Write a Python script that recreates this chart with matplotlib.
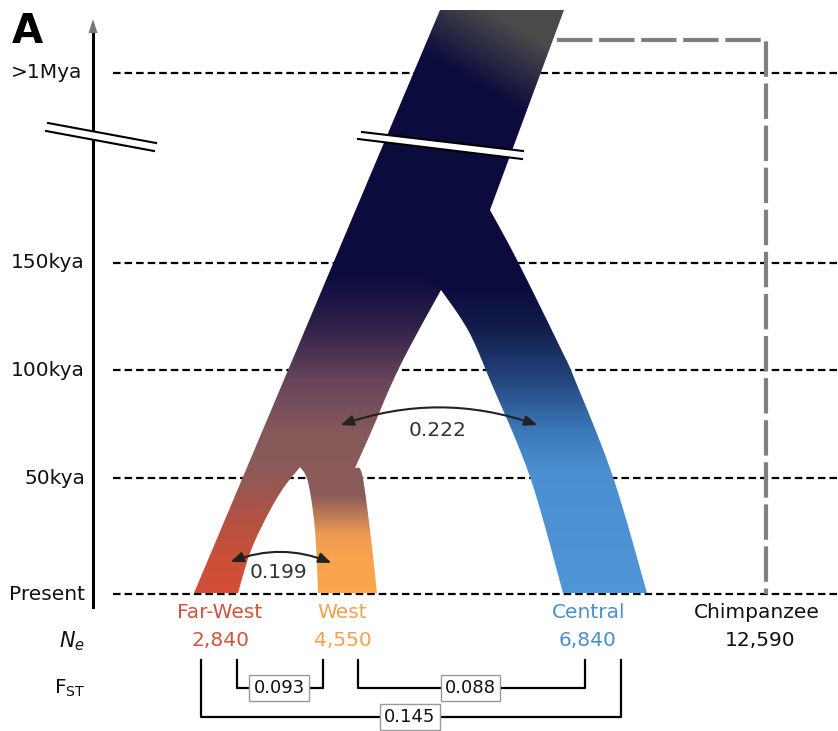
import numpy as np
import matplotlib.pyplot as plt
from matplotlib.patches import Polygon, FancyArrowPatch
from matplotlib.colors import to_rgb

# --- data ---
time_kya = [0, 50, 100, 150]
time_labels = ['Present', '50kya', '100kya', '150kya']
deep_label = '>1Mya'

populations = ['Far-West', 'West', 'Central', 'Chimpanzee']
ne_values = [2840, 4550, 6840, 12590]
pop_colors = ['#d0543e', '#f4a14e', '#4a8fd0', '#111111']

fst_pairs = [('Far-West', 'West'), ('West', 'Central'), ('Far-West', 'Central')]
fst_values = [0.093, 0.088, 0.145]

migration_pairs = [('Far-West', 'West'), ('West', 'Central')]
migration_values = [0.199, 0.222]

# --- layout (figure pixels, y grows downward) ---
W, H = 838, 731
TIME_PX = [594, 478, 370, 263]
DEEP_PX = 73


def t2y(kya):
    return np.interp(kya, time_kya, TIME_PX)


def curve(pts, n=24):
    # catmull-rom through the given points
    pts = np.asarray(pts, float)
    p = np.vstack([pts[0], pts, pts[-1]])
    out = []
    t = np.linspace(0, 1, n, endpoint=False)[:, None]
    for i in range(1, len(p) - 2):
        p0, p1, p2, p3 = p[i - 1], p[i], p[i + 1], p[i + 2]
        out.append(0.5 * (2 * p1 + (-p0 + p2) * t + (2 * p0 - 5 * p1 + 4 * p2 - p3) * t ** 2
                          + (-p0 + 3 * p1 - 3 * p2 + p3) * t ** 3))
    out.append(pts[-1:])
    return np.vstack(out)


def ramp(stops):
    ys = [s[0] for s in stops]
    cols = np.array([to_rgb(s[1]) for s in stops])
    rows = np.arange(H) + 0.5
    return np.stack([np.interp(rows, ys, cols[:, k]) for k in range(3)], axis=1)


NAVY = '#0b0b3d'
trunk_stops = [(0, NAVY), (275, NAVY),
               (320, '#2a1d48'), (380, '#66445a'), (430, '#84585a'), (470, '#8a5a58')]
fw_stops = trunk_stops + [(520, '#b25142'), (560, '#cc4f38'), (594, '#d34e36')]
west_stops = trunk_stops + [(495, '#8a5a5a'), (535, '#ef9a52'), (560, '#f9a44d'), (594, '#fba54d')]
central_stops = [(0, NAVY), (285, NAVY), (325, '#111b48'), (380, '#24457e'),
                 (430, '#3a78b8'), (470, '#4a8fcf'), (594, '#4f96d6')]

fig = plt.figure(figsize=(W / 100, H / 100), dpi=100)
ax = fig.add_axes([0, 0, 1, 1])

# dashed time lines
for y in list(t2y(time_kya)) + [DEEP_PX]:
    ax.plot([113, W], [y, y], color='black', lw=1.6, dashes=(3.4, 1.8), zorder=1)

# chimpanzee outgroup
ax.plot([557, 766, 766], [40, 40, t2y(0)], color='#808080', lw=3, dashes=(8.5, 1.6),
        solid_capstyle='butt', zorder=1)

# West / Far-West lineage with ancestral trunk
left_edge = np.array([[440, 10], [194, 593]])
trunk_right = np.array([[564, 10], [490, 210], [441, 290]])
west_anc_right = curve([[441, 290], [420, 328], [402, 362], [388, 392], [372, 430], [355, 468]])
west_right = curve([[355, 468], [362, 474], [370, 530], [377, 593]])
west_left = curve([[318, 593], [315, 530], [308, 482], [300, 467]])
fw_right = curve([[300, 467], [282, 490], [265, 520], [250, 553], [238, 593]])
trunk_poly = np.vstack([left_edge[:1], trunk_right, west_anc_right, west_right,
                        west_left, fw_right, [[194, 593]]])

fw_col = ramp(fw_stops)
west_col = ramp(west_stops)
xs = np.arange(W) + 0.5
ys = np.arange(H) + 0.5
wgt = 1 / (1 + np.exp(-(xs - 290) / 6.0))
img = fw_col[:, None, :] * (1 - wgt[None, :, None]) + west_col[:, None, :] * wgt[None, :, None]
# grey-to-navy fade at the top of the trunk runs diagonally
g = np.clip((ys[:, None] - 0.6 * (xs[None, :] - 470)) / 80, 0, 1)[:, :, None]
img = img * g + np.array(to_rgb('#4a4a4a')) * (1 - g)
img = (np.clip(img, 0, 1) * 255).round().astype(np.uint8)
p1 = Polygon(trunk_poly, closed=True, fc='none', ec='none')
ax.add_patch(p1)
im1 = ax.imshow(img, extent=(0, W, H, 0), aspect='auto', interpolation='nearest', zorder=2)
im1.set_clip_path(p1)

# Central lineage
c_outer = curve([[490, 210], [517, 260], [560, 347], [575, 380], [613, 477], [647, 593]])
c_inner = curve([[563, 593], [530, 477], [490, 380], [473, 340], [460, 317], [441, 290]])
central_poly = np.vstack([c_outer, c_inner, [[425, 280], [460, 200]]])
p2 = Polygon(central_poly, closed=True, fc='none', ec='none')
ax.add_patch(p2)
cimg = (np.clip(ramp(central_stops), 0, 1) * 255).round().astype(np.uint8)[:, None, :]
im2 = ax.imshow(cimg, extent=(0, W, H, 0), aspect='auto', interpolation='nearest', zorder=2)
im2.set_clip_path(p2)

# time axis
ax.plot([93, 93], [607, 30], color='black', lw=2.2, zorder=3)
ax.add_patch(Polygon([[93, 19], [88.5, 33], [97.5, 33]], closed=True, fc='#777777', ec='none', zorder=3))
for lab, y in zip(time_labels, t2y(time_kya)):
    ax.text(85, y, lab, ha='right', va='center', fontsize=14.5, color='#111111')
ax.text(82, DEEP_PX, deep_label, ha='right', va='center', fontsize=14.5, color='#111111')

# axis breaks
for a, b in [(((48, 123), (156, 143)), ((46, 131), (154, 151))),
             (((362, 132), (523, 151)), ((358, 139), (522, 159)))]:
    ax.add_patch(Polygon([a[0], a[1], b[1], b[0]], closed=True, fc='white', ec='none', zorder=4))
    ax.plot([a[0][0], a[1][0]], [a[0][1], a[1][1]], color='black', lw=1.5, zorder=5)
    ax.plot([b[0][0], b[1][0]], [b[0][1], b[1][1]], color='black', lw=1.5, zorder=5)

# migration arrows
mig_pos = {('Far-West', 'West'): ((228, 563), (334, 564), -0.21, (278, 573)),
           ('West', 'Central'): ((338, 426), (540, 426), -0.18, (438, 430))}
for pair, val in zip(migration_pairs, migration_values):
    a, b, rad, tp = mig_pos[pair]
    ax.add_patch(FancyArrowPatch(a, b, connectionstyle=f'arc3,rad={rad}',
                                 arrowstyle='<|-|>,head_length=0.55,head_width=0.22',
                                 mutation_scale=14, lw=1.5, color='#222222', zorder=6))
    ax.text(tp[0], tp[1], f'{val:.3f}', ha='center', va='center', fontsize=14.5, color='#333333', zorder=6)

# population labels and Ne
pop_x = {'Far-West': 220, 'West': 342, 'Central': 589, 'Chimpanzee': 757}
ne_x = {'Far-West': 220, 'West': 343, 'Central': 588, 'Chimpanzee': 760}
for name, ne, col in zip(populations, ne_values, pop_colors):
    ax.text(pop_x[name], 613, name, ha='center', va='center', fontsize=14.5, color=col)
    ax.text(ne_x[name], 641, f'{ne:,}', ha='center', va='center', fontsize=14.5, color=col)
ax.text(72, 641, r'$N_e$', ha='center', va='center', fontsize=15, color='#111111')
ax.text(70, 688, r'$\mathregular{F_{ST}}$', ha='center', va='center', fontsize=14.5, color='#111111')

# Fst brackets
bracket = {('Far-West', 'West'): (237, 323, 688),
           ('West', 'Central'): (358, 585, 688),
           ('Far-West', 'Central'): (201, 621, 717)}
for pair, val in zip(fst_pairs, fst_values):
    xa, xb, yb = bracket[pair]
    ax.plot([xa, xa, xb, xb], [660, yb, yb, 660], color='black', lw=1.6, zorder=3)
    ax.text((xa + xb) / 2 - 1, yb, f'{val:.3f}', ha='center', va='center', fontsize=13,
            color='#111111', zorder=4,
            bbox=dict(boxstyle='square,pad=0.22', fc='white', ec='#999999', lw=1))

ax.text(12, 43, 'A', ha='left', va='baseline', fontsize=29, fontweight='bold')

ax.set_xlim(0, W)
ax.set_ylim(H, 0)
ax.axis('off')
fig.savefig('out.png', dpi=100)
